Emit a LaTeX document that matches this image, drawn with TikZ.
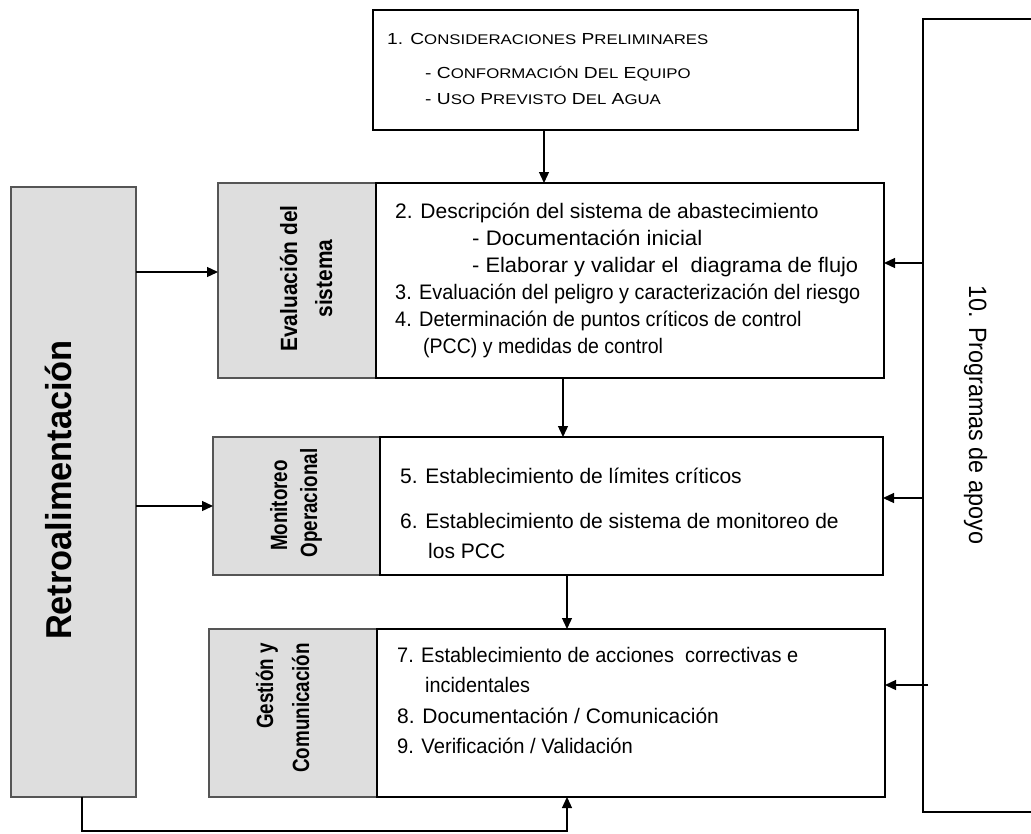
\documentclass[tikz,border=0pt]{standalone}
\usepackage{fontspec}
\usepackage{graphicx}
\setmainfont{Liberation Sans}
\newfontfamily\scfont[FakeStretch=1.2]{Liberation Sans}
\newfontfamily\evalfont[FakeStretch=0.89]{Liberation Sans}
\newfontfamily\condfont[FakeStretch=0.8]{Liberation Sans}
\newfontfamily\retrofont[FakeStretch=0.955]{Liberation Sans}
\newfontfamily\progfont[FakeStretch=0.935]{Liberation Sans}
\usetikzlibrary{arrows.meta,calc}
\definecolor{gfill}{RGB}{222,222,222}
\definecolor{gline}{RGB}{85,85,85}
\newcommand{\smc}[1]{{\fontsize{14}{14}\selectfont #1}}
\newcommand{\hs}[2]{\scalebox{#1}[1]{#2}}
\tikzset{
  wbox/.style={draw=black, fill=white, line width=1.6pt, inner sep=0, outer sep=0, anchor=north west},
  gbox/.style={draw=gline, fill=gfill, line width=1.4pt, inner sep=0, outer sep=0, anchor=north west},
  arr/.style={line width=1.3pt, -{Triangle[length=11pt,width=10pt]}},
  txt/.style={inner sep=0, anchor=base west, font=\fontsize{21}{21}\selectfont},
  sctxt/.style={inner sep=0, anchor=base west, font=\scfont\fontsize{16}{16}\selectfont},
  evlab/.style={inner sep=0, rotate=90, anchor=base, font=\evalfont\bfseries\fontsize{23.5}{23.5}\selectfont},
  cdlab/.style={inner sep=0, rotate=90, anchor=base, font=\condfont\bfseries\fontsize{23.5}{23.5}\selectfont}
}
\begin{document}
\begin{tikzpicture}[x=1pt,y=-1pt]
\useasboundingbox (0,0) rectangle (1031,833);
\clip (0,0) rectangle (1031,833);

% boxes
\node[wbox, minimum width=485pt, minimum height=120pt] (b1) at (373,10) {};
\node[gbox, minimum width=158pt, minimum height=195pt] (g2) at (218,183) {};
\node[wbox, minimum width=508pt, minimum height=195pt] (w2) at (376,183) {};
\node[gbox, minimum width=167pt, minimum height=138pt] (g3) at (213,437) {};
\node[wbox, minimum width=503pt, minimum height=138pt] (w3) at (380,437) {};
\node[gbox, minimum width=168pt, minimum height=168pt] (g4) at (209,629) {};
\node[wbox, minimum width=508pt, minimum height=168pt] (w4) at (377,629) {};
\node[gbox, minimum width=125pt, minimum height=610pt] (r) at (11,187) {};
\node[wbox, minimum width=140pt, minimum height=793pt] (p) at (923,19) {};

% box 1 text
\node[sctxt] (t1a) at (387,44) {1. C\smc{ONSIDERACIONES} P\smc{RELIMINARES}};
\node[sctxt] (t1b) at (425,78) {- C\smc{ONFORMACIÓN} D\smc{EL} E\smc{QUIPO}};
\node[sctxt] (t1c) at (425,104) {- U\smc{SO} P\smc{REVISTO} D\smc{EL} A\smc{GUA}};

% box 2 text
\node[txt] (t2a) at (395,218) {2. Descripción del sistema de abastecimiento};
\node[txt] (t2b) at (472,245) {\hs{1.06}{- Documentación inicial}};
\node[txt] (t2c) at (472,272) {\hs{1.04}{- Elaborar y validar el \ diagrama de flujo}};
\node[txt] (t2d) at (395,299) {\hs{0.947}{3. Evaluación del peligro y caracterización del riesgo}};
\node[txt] (t2e) at (395,326) {\hs{0.947}{4. Determinación de puntos críticos de control}};
\node[txt] (t2f) at (423,353) {\hs{0.93}{(PCC) y medidas de control}};

% box 3 text
\node[txt] (t3a) at (400,483) {5. Establecimiento de límites críticos};
\node[txt] (t3b) at (400,528) {6. Establecimiento de sistema de monitoreo de};
\node[txt] (t3c) at (428,558) {los PCC};

% box 4 text
\node[txt] (t4a) at (397,662) {\hs{0.95}{7. Establecimiento de acciones \ correctivas e}};
\node[txt] (t4b) at (425,692) {\hs{0.945}{incidentales}};
\node[txt] (t4c) at (397,723) {8. Documentación / Comunicación};
\node[txt] (t4d) at (397,753) {\hs{0.96}{9. Verificación / Validación}};

% gray labels
\node[evlab] (l2a) at (297,278.5) {Evaluación del};
\node[evlab] (l2b) at (332,278.5) {sistema};
\node[cdlab] (l3a) at (287,505.5) {Monitoreo};
\node[cdlab] (l3b) at (317,503) {Operacional};
\node[cdlab, anchor=base east] (l4a) at (273,643) {Gestión y};
\node[cdlab, anchor=base east] (l4b) at (309,643) {Comunicación};

\node[inner sep=0, rotate=90, anchor=base, font=\retrofont\bfseries\fontsize{36}{36}\selectfont] (lr) at (71,490) {Retroalimentación};
\node[inner sep=0, rotate=-90, anchor=base, font=\progfont\fontsize{25}{25}\selectfont] (lp) at (969,415) {10. Programas de apoyo};

% vertical flow arrows
\coordinate (a1) at ($(b1.south)+(-71.5,0)$);
\draw[arr] (a1) -- (a1 |- w2.north);
\coordinate (a2) at ($(w2.south)+(-67,0)$);
\draw[arr] (a2) -- (a2 |- w3.north);
\coordinate (a3) at ($(w3.south)+(-64.5,0)$);
\draw[arr] (a3) -- (a3 |- w4.north);

% feedback arrows
\coordinate (ga) at ($(g2.west)+(0,-8.5)$);
\draw[arr] (r.east |- ga) -- (ga);
\draw[arr] (r.east |- g3.west) -- (g3.west);
\coordinate (fb) at ($(r.south)+(8.5,0)$);
\coordinate (fe) at ($(w4.south)+(-64,0)$);
\draw[arr] (fb) -- ++(0,34) -| (fe);

% support arrows
\coordinate (s2) at ($(w2.east)+(0,-17.5)$);
\draw[arr] (p.west |- s2) -- (s2);
\coordinate (s3) at ($(w3.east)+(0,-8)$);
\draw[arr] (p.west |- s3) -- (s3);
\coordinate (s4) at ($(w4.east)+(0,-28)$);
\draw[arr] ($(p.west |- s4)+(5,0)$) -- (s4);
\end{tikzpicture}
\end{document}
